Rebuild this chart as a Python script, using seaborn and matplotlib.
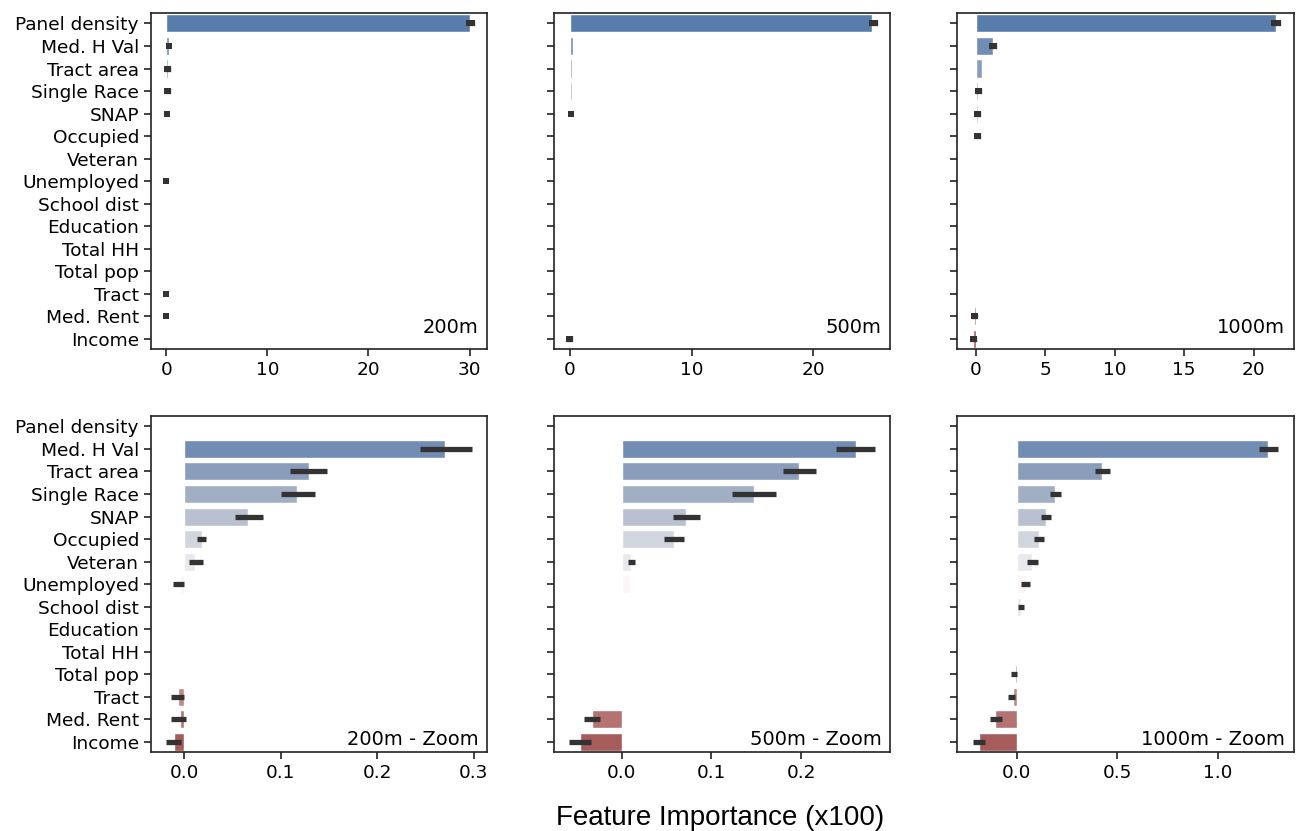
import numpy as np
import pandas as pd
import seaborn as sns
import matplotlib
matplotlib.use("Agg")
import matplotlib.pyplot as plt

features = ["Panel density", "Med. H Val", "Tract area", "Single Race", "SNAP",
            "Occupied", "Veteran", "Unemployed", "School dist", "Education",
            "Total HH", "Total pop", "Tract", "Med. Rent", "Income"]

distances = ["200m", "500m", "1000m"]

# feature importance (x100), means
val_200 = [30.05, 0.270, 0.129, 0.117, 0.066, 0.018, 0.011, -0.005, 0.0, 0.0, 0.0, 0.0, -0.007, -0.005, -0.011]
val_500 = [24.85, 0.261, 0.198, 0.147, 0.072, 0.058, 0.011, 0.009, 0.0, 0.0, 0.0, 0.0, 0.0, -0.033, -0.046]
val_1000 = [21.62, 1.25, 0.426, 0.190, 0.144, 0.109, 0.077, 0.044, 0.020, 0.0, 0.0, -0.011, -0.021, -0.106, -0.186]

# confidence interval bounds
lo_200 = [29.95, 0.244, 0.110, 0.100, 0.052, 0.013, 0.0045, -0.012, np.nan, np.nan, np.nan, np.nan, -0.014, -0.014, -0.019]
hi_200 = [30.20, 0.298, 0.148, 0.135, 0.082, 0.022, 0.019, 0.000, np.nan, np.nan, np.nan, np.nan, 0.000, 0.002, -0.004]
lo_500 = [24.80, 0.239, 0.180, 0.123, 0.057, 0.047, 0.007, np.nan, np.nan, np.nan, np.nan, np.nan, np.nan, -0.042, -0.058]
hi_500 = [25.05, 0.282, 0.216, 0.172, 0.087, 0.070, 0.015, np.nan, np.nan, np.nan, np.nan, np.nan, np.nan, -0.024, -0.034]
lo_1000 = [21.50, 1.205, 0.390, 0.166, 0.119, 0.088, 0.052, 0.021, 0.005, np.nan, np.nan, -0.031, -0.042, -0.135, -0.219]
hi_1000 = [21.78, 1.300, 0.463, 0.220, 0.170, 0.134, 0.106, 0.067, 0.036, np.nan, np.nan, 0.003, -0.007, -0.075, -0.158]

# which error bars are visible in the full-range (top) panels
top_err_200 = [1, 1, 1, 1, 1, 0, 0, 1, 0, 0, 0, 0, 1, 1, 0]
top_err_500 = [1, 0, 0, 0, 1, 0, 0, 0, 0, 0, 0, 0, 0, 0, 1]
top_err_1000 = [1, 1, 0, 1, 1, 1, 0, 0, 0, 0, 0, 0, 0, 1, 1]

vals = [val_200, val_500, val_1000]
los = [lo_200, lo_500, lo_1000]
his = [hi_200, hi_500, hi_1000]
top_flags = [top_err_200, top_err_500, top_err_1000]

sns.set_style("ticks")
plt.rcParams["font.family"] = ["DejaVu Sans"]
plt.rcParams["text.color"] = "black"

palette = dict(zip(features, sns.color_palette("vlag", len(features))))

fig, axes = plt.subplots(2, 3, figsize=(13, 8.31), dpi=100, sharey="row")
fig.subplots_adjust(left=0.116, right=0.995, top=0.984, bottom=0.095,
                    wspace=0.2, hspace=0.2)

err_color = "#333333"
err_lw = 3.8

for j, d in enumerate(distances):
    df = pd.DataFrame({"feature": features, "value": vals[j],
                       "lo": los[j], "hi": his[j], "top": top_flags[j]})
    # top: full range
    ax = axes[0, j]
    sns.barplot(data=df, x="value", y="feature", hue="feature", order=features,
                hue_order=features, palette=palette, legend=False, errorbar=None, ax=ax)
    for i, row in df.iterrows():
        if row["top"] and not np.isnan(row["lo"]):
            ax.plot([row["lo"], row["hi"]], [i, i], color=err_color, lw=err_lw,
                    solid_capstyle="projecting", marker="s", markersize=err_lw + 0.6,
                    markeredgewidth=0, zorder=3)
    ax.text(0.975, 0.035, d, transform=ax.transAxes, ha="right", va="bottom",
            fontsize=14, color="black")

    # bottom: zoom (panel density removed)
    ax = axes[1, j]
    dz = df[df["feature"] != "Panel density"]
    sns.barplot(data=dz, x="value", y="feature", hue="feature", order=features,
                hue_order=features, palette=palette, legend=False, errorbar=None, ax=ax)
    for i, row in df.iterrows():
        if row["feature"] == "Panel density" or np.isnan(row["lo"]):
            continue
        ax.plot([row["lo"], row["hi"]], [i, i], color=err_color, lw=err_lw,
                solid_capstyle="butt", zorder=3)
    ax.text(0.975, 0.01, d + " - Zoom", transform=ax.transAxes, ha="right", va="bottom",
            fontsize=14, color="black")

for ax in axes.flat:
    ax.set_xlabel("")
    ax.set_ylabel("")
    ax.set_ylim(len(features) - 0.55, -0.45)
    ax.tick_params(axis="both", labelsize=13.3, length=5, width=1.2,
                   colors="#222222", labelcolor="black")
    for s in ax.spines.values():
        s.set_visible(True)
        s.set_linewidth(1.2)
        s.set_color("#222222")

axes[0, 1].set_xticks([0, 10, 20])
axes[0, 2].set_xticks([0, 5, 10, 15, 20])
axes[1, 0].set_xticks([0.0, 0.1, 0.2, 0.3])
axes[1, 1].set_xticks([0.0, 0.1, 0.2])
axes[1, 2].set_xticks([0.0, 0.5, 1.0])

fig.text(0.554, 0.016, "Feature Importance (x100)", ha="center", va="center",
         fontsize=20, color="black", family=["Liberation Sans", "DejaVu Sans"])

fig.savefig("out.png", dpi=100)
